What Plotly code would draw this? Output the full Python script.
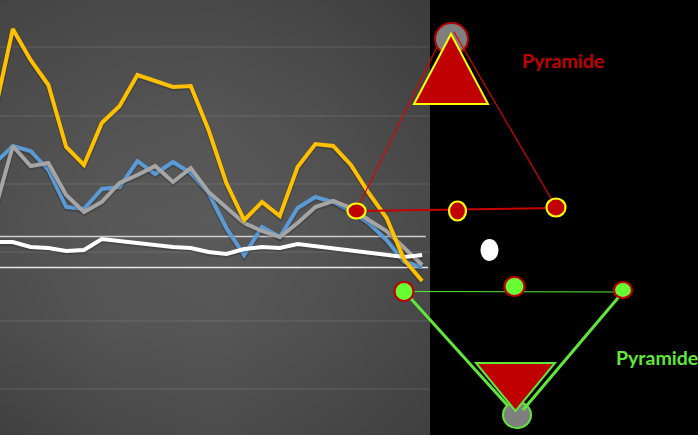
import plotly.graph_objects as go

# Series values: height above the bottom of the chart, one point per period
periods = list(range(25))
yellow_y = [111,29,60,85,147,165,123,106,75,81,87,86,130,183,220,202,216,167,144,146,165,193,218,260,281]
blue_y = [163,146,151,170,207,209,189,187,161,174,162,173,193,228,255,227,237,208,197,202,211,223,240,262,267]
gray_y = [210,146,166,163,195,212,202,183,175,166,182,168,192,207,223,231,237,223,207,201,208,220,231,248,265]
white_y = [242,242,247,248,251,250,239,241,243,246,247,248,252,254,249,247,248,244,246,249,250,253,254,257,255]
yellow = [435 - v for v in yellow_y]
blue = [435 - v for v in blue_y]
gray = [435 - v for v in gray_y]
white = [435 - v for v in white_y]

grid_levels = [46, 114, 183, 251, 319, 388]
limit_hi, limit_lo = 198.5, 167.5

bg_x = [0.281, 6.3, 12.4, 18.5, 24.44]
bg_y = [0, 109, 218, 326, 435]
bg_z = [
    [64, 72, 76, 70, 64],
    [76, 84, 86, 80, 70],
    [80, 88, 90, 84, 74],
    [76, 82, 84, 78, 68],
    [68, 72, 72, 68, 60],
]

# Diagram parts, on a page-sized axis
RED, GREEN, YEL, GREY = "#c00000", "#66ff33", "#ffff00", "#7f7f7f"
red_tri = [(451, 34), (488, 104), (414, 104)]
green_tri = [(476, 363), (555, 363), (515.5, 411)]
red_thin = [[(356, 211), (437, 47)], [(454, 32), (556, 207)]]
red_base = [(356, 211), (556, 208)]
green_thin = [(404, 291.5), (623, 292)]
green_thick = [[(404, 291), (508, 406)], [(623, 292), (523, 410)]]
red_dots = [(356.5, 211, 9, 7.5), (457.5, 211, 8.5, 9.5), (556, 207.5, 9.5, 9)]
green_dots = [(404, 291.5, 9.5, 9.5), (514.5, 286.5, 10, 9.5), (623, 290, 9, 8)]
white_dot = (489.5, 250, 9, 11)
top_ball = (451.5, 39, 16.5, 16)
bottom_ball = (517, 415, 14, 13)
labels = [("Pyramide", 563, 60, RED), ("Pyramide", 657, 357, "#5fe83a")]

fig = go.Figure()
fig.add_trace(go.Heatmap(x=bg_x, y=bg_y, z=bg_z, zsmooth="best", zmin=0, zmax=255,
                         colorscale=[[0, "black"], [1, "white"]], showscale=False, hoverinfo="skip"))
gx, gy = [], []
for g in grid_levels:
    gx += [bg_x[0], bg_x[-1], None]
    gy += [g, g, None]
fig.add_trace(go.Scatter(x=gx, y=gy, mode="lines", line=dict(color="rgba(255,255,255,0.13)", width=1)))
fig.add_trace(go.Scatter(x=[0.281, 24.2], y=[limit_hi, limit_hi], mode="lines", line=dict(color="#cfcfcf", width=1.3)))
fig.add_trace(go.Scatter(x=[0.281, 24.33], y=[limit_lo, limit_lo], mode="lines", line=dict(color="#e6e6e6", width=1.3)))
for vals, col in [(blue, "#5b9bd5"), (gray, "#a5a5a5"), (white, "#ffffff"), (yellow, "#ffc000")]:
    fig.add_trace(go.Scatter(x=periods, y=[v - 1 for v in vals], mode="lines", line=dict(color="rgba(0,0,0,0.16)", width=6)))
    fig.add_trace(go.Scatter(x=periods, y=vals, mode="lines", line=dict(color=col, width=4)))
fig.add_trace(go.Scatter(x=[0, 698], y=[0, 435], xaxis="x2", yaxis="y2", mode="markers", marker=dict(opacity=0)))

shapes = []
def ell(e, fill, line, w=2):
    x, y, rx, ry = e
    shapes.append(dict(type="circle", xref="x2", yref="y2", x0=x - rx, x1=x + rx, y0=y - ry, y1=y + ry,
                       fillcolor=fill, line=dict(color=line, width=w)))
def seg(p, col, w):
    shapes.append(dict(type="line", xref="x2", yref="y2", x0=p[0][0], y0=p[0][1], x1=p[1][0], y1=p[1][1],
                       line=dict(color=col, width=w)))
def tri(p, fill, line):
    d = "M" + " L".join(f"{x},{y}" for x, y in p) + " Z"
    shapes.append(dict(type="path", xref="x2", yref="y2", path=d, fillcolor=fill, line=dict(color=line, width=2)))

ell(top_ball, GREY, "#b00000")
tri(red_tri, RED, YEL)
seg(red_base, "#c80000", 2)
for s in red_thin:
    seg(s, "#e00000", 1.2)
for d in red_dots:
    ell(d, RED, YEL, 2.2)
ell(white_dot, "#ffffff", "#ffffff", 0)
ell(bottom_ball, GREY, "#5fe83a")
tri(green_tri, RED, "#5fe83a")
seg(green_thin, "#5fe83a", 1.2)
for s in green_thick:
    seg(s, "#5fe83a", 3)
for d in green_dots:
    ell(d, GREEN, RED, 2.2)

fig.update_layout(
    width=698, height=435, margin=dict(l=0, r=0, t=0, b=0), showlegend=False,
    paper_bgcolor="black", plot_bgcolor="rgba(0,0,0,0)", shapes=shapes,
    xaxis=dict(domain=[0, 430 / 698], range=[0.281, 24.44], visible=False),
    yaxis=dict(domain=[0, 1], range=[0, 435], visible=False),
    xaxis2=dict(domain=[0, 1], range=[0, 698], visible=False, anchor="y2"),
    yaxis2=dict(domain=[0, 1], range=[435, 0], visible=False, anchor="x2"),
    annotations=[dict(text=t, x=x, y=y, xref="x2", yref="y2", showarrow=False,
                      font=dict(family="Lato", size=19.5, color=c, weight="bold"))
                 for t, x, y, c in labels],
)
fig.write_html("out.html", config={"displayModeBar": False},
               post_script="document.body.style.margin='0';document.body.style.background='black';document.body.style.overflow='hidden';")
